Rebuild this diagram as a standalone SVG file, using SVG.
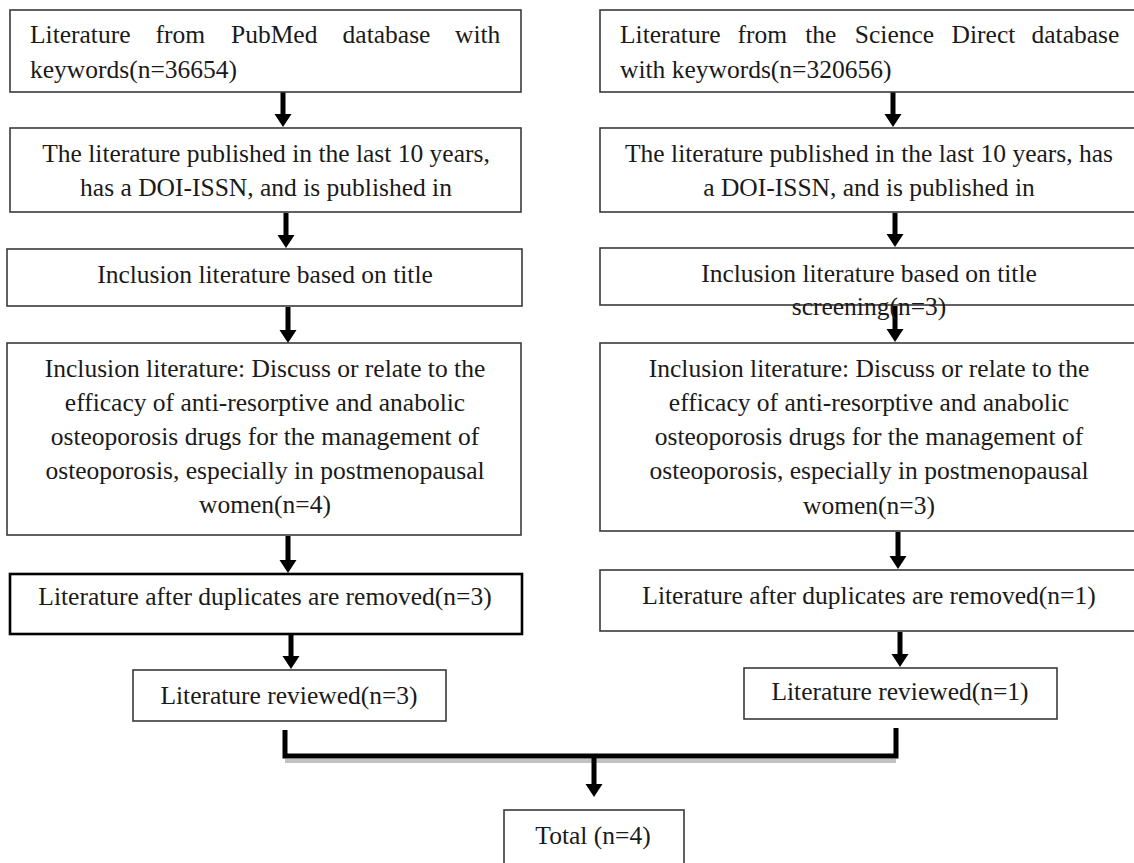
<svg xmlns="http://www.w3.org/2000/svg" width="1134" height="863" viewBox="0 0 1134 863">
<style>
.box{fill:#fff;stroke:#3a3a3a;stroke-width:1.6}
.boxb{fill:#fff;stroke:#000;stroke-width:2.6}
text{font-family:"Liberation Serif","Times New Roman",serif;font-size:25.5px;fill:#1a1a1a}
.c{text-anchor:middle}
.arrow{fill:#000}
</style>
<rect width="1134" height="863" fill="#fff"/>
<g id="connectors">
<path class="arrow" d="M280.5,92 H285.5 V114 H291.5 L283,127 L274.5,114 H280.5 Z"/>
<path class="arrow" d="M283.5,213 H288.5 V235 H294.5 L286,248 L277.5,235 H283.5 Z"/>
<path class="arrow" d="M285.5,307 H290.5 V330 H296.5 L288,343 L279.5,330 H285.5 Z"/>
<path class="arrow" d="M285.5,536 H290.5 V560 H296.5 L288,573 L279.5,560 H285.5 Z"/>
<path class="arrow" d="M288.5,635 H293.5 V656 H299.5 L291,669 L282.5,656 H288.5 Z"/>
<path class="arrow" d="M890.5,92 H895.5 V114 H901.5 L893,127 L884.5,114 H890.5 Z"/>
<path class="arrow" d="M892.5,213 H897.5 V234 H903.5 L895,247 L886.5,234 H892.5 Z"/>
<path class="arrow" d="M892.5,306 H897.5 V329 H903.5 L895,342 L886.5,329 H892.5 Z"/>
<path class="arrow" d="M895.5,532 H900.5 V556 H906.5 L898,569 L889.5,556 H895.5 Z"/>
<path class="arrow" d="M897.5,632 H902.5 V654 H908.5 L900,667 L891.5,654 H897.5 Z"/>
<line x1="285" y1="761" x2="896" y2="761" stroke="#9a9a9a" stroke-width="4" opacity="0.6"/>
<path d="M285,730 V756 H896 V728" fill="none" stroke="#000" stroke-width="5"/>
<path class="arrow" d="M591.5,758 H596.5 V784 H602.5 L594,797 L585.5,784 H591.5 Z"/>
</g>
<g id="left1">
<rect class="box" x="10" y="10" width="511" height="82"/>
<text y="43"><tspan x="30">Literature</tspan><tspan x="155.5">from</tspan><tspan x="231">PubMed</tspan><tspan x="342.6">database</tspan><tspan x="455">with</tspan></text>
<text x="30" y="78">keywords(n=36654)</text>
</g>
<g id="left2">
<rect class="box" x="10" y="128" width="511" height="84"/>
<text class="c" x="266" y="162">The literature published in the last 10 years,</text>
<text class="c" x="266" y="196">has a DOI-ISSN, and is published in</text>
</g>
<g id="left3">
<rect class="box" x="7" y="249" width="515" height="57"/>
<text class="c" x="265" y="283">Inclusion literature based on title</text>
</g>
<g id="left4">
<rect class="box" x="7" y="343" width="514" height="192"/>
<text class="c" x="265" y="377">Inclusion literature: Discuss or relate to the</text>
<text class="c" x="265" y="411">efficacy of anti-resorptive and anabolic</text>
<text class="c" x="265" y="445">osteoporosis drugs for the management of</text>
<text class="c" x="265" y="479">osteoporosis, especially in postmenopausal</text>
<text class="c" x="265" y="513">women(n=4)</text>
</g>
<g id="left5">
<rect class="boxb" x="10" y="574" width="512" height="60"/>
<text class="c" x="265" y="605">Literature after duplicates are removed(n=3)</text>
</g>
<g id="left6">
<rect class="box" x="133" y="670" width="313" height="51"/>
<text class="c" x="289" y="704">Literature reviewed(n=3)</text>
</g>
<g id="right1">
<rect class="box" x="600" y="10" width="536" height="82"/>
<text y="43"><tspan x="620">Literature</tspan><tspan x="737.6">from</tspan><tspan x="805.2">the</tspan><tspan x="854.8">Science</tspan><tspan x="951.6">Direct</tspan><tspan x="1031.5">database</tspan></text>
<text x="620" y="78">with keywords(n=320656)</text>
</g>
<g id="right2">
<rect class="box" x="600" y="128" width="536" height="84"/>
<text class="c" x="869" y="162">The literature published in the last 10 years, has</text>
<text class="c" x="869" y="196">a DOI-ISSN, and is published in</text>
</g>
<g id="right3">
<rect class="box" x="600" y="248" width="536" height="57"/>
<text class="c" x="869" y="282">Inclusion literature based on title</text>
<text class="c" x="869" y="315">screening(n=3)</text>
</g>
<g id="right4">
<rect class="box" x="600" y="343" width="536" height="188"/>
<text class="c" x="869" y="377">Inclusion literature: Discuss or relate to the</text>
<text class="c" x="869" y="411">efficacy of anti-resorptive and anabolic</text>
<text class="c" x="869" y="445">osteoporosis drugs for the management of</text>
<text class="c" x="869" y="479">osteoporosis, especially in postmenopausal</text>
<text class="c" x="869" y="514">women(n=3)</text>
</g>
<g id="right5">
<rect class="box" x="600" y="570" width="536" height="61"/>
<text class="c" x="869" y="604">Literature after duplicates are removed(n=1)</text>
</g>
<g id="right6">
<rect class="box" x="744" y="668" width="313" height="51"/>
<text class="c" x="900" y="700">Literature reviewed(n=1)</text>
</g>
<g id="total">
<rect class="box" x="504" y="810" width="180" height="58"/>
<text class="c" x="593" y="844">Total (n=4)</text>
</g>
</svg>
